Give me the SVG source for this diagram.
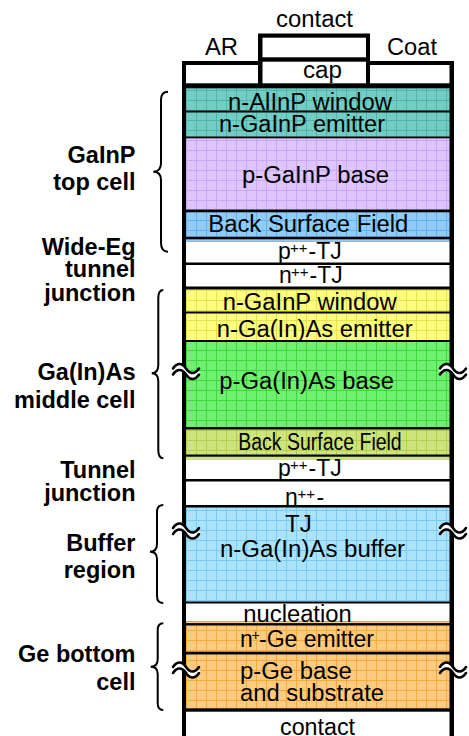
<svg xmlns="http://www.w3.org/2000/svg" width="469" height="736" viewBox="0 0 469 736">
<style>
text{font-family:"Liberation Sans",Arial,sans-serif;fill:#000}
.t{font-size:23px}
.lab{font-size:23.5px;font-weight:bold;text-anchor:end}
.brace{fill:none;stroke:#000;stroke-width:2}
.wv{fill:none;stroke:#000;stroke-width:2.6;stroke-linecap:round}
.wvw{fill:none;stroke:#fff;stroke-width:4}
</style>
<defs>
<pattern id="pTeal" patternUnits="userSpaceOnUse" x="186" y="0" width="10" height="10"><rect width="10" height="10" fill="#72cdc4"/><path d="M0 0.5H10M0.5 0V10" stroke="#52b5ab" stroke-width="1"/></pattern>
<pattern id="pLav" patternUnits="userSpaceOnUse" x="186" y="0" width="10" height="10"><rect width="10" height="10" fill="#dec6fc"/><path d="M0 0.5H10M0.5 0V10" stroke="#c8a8f4" stroke-width="1"/></pattern>
<pattern id="pBlue" patternUnits="userSpaceOnUse" x="186" y="0" width="10" height="10"><rect width="10" height="10" fill="#90ccf6"/><path d="M0 0.5H10M0.5 0V10" stroke="#62b2ee" stroke-width="1"/></pattern>
<pattern id="pYel" patternUnits="userSpaceOnUse" x="186" y="0" width="10" height="10"><rect width="10" height="10" fill="#fdfd80"/><path d="M0 0.5H10M0.5 0V10" stroke="#e4e44c" stroke-width="1"/></pattern>
<pattern id="pGrn" patternUnits="userSpaceOnUse" x="186" y="0" width="10" height="10"><rect width="10" height="10" fill="#70f070"/><path d="M0 0.5H10M0.5 0V10" stroke="#3ed83e" stroke-width="1"/></pattern>
<pattern id="pOli" patternUnits="userSpaceOnUse" x="186" y="0" width="10" height="10"><rect width="10" height="10" fill="#cde37e"/><path d="M0 0.5H10M0.5 0V10" stroke="#b4cf48" stroke-width="1"/></pattern>
<pattern id="pLb" patternUnits="userSpaceOnUse" x="186" y="0" width="10" height="10"><rect width="10" height="10" fill="#abe3fb"/><path d="M0 0.5H10M0.5 0V10" stroke="#78ccf2" stroke-width="1"/></pattern>
<pattern id="pOr" patternUnits="userSpaceOnUse" x="186" y="0" width="10" height="10"><rect width="10" height="10" fill="#fdcb80"/><path d="M0 0.5H10M0.5 0V10" stroke="#f5aa3c" stroke-width="1"/></pattern>
<g id="wave"><path class="wvw" d="M-13,3 C-9,-3 -4,-3 0,3 S9,9 13,3"/><path class="wv" d="M-13,0 C-9,-6 -4,-6 0,0 S9,6 13,0"/><path class="wv" d="M-13,6 C-9,0 -4,0 0,6 S9,12 13,6"/></g>
</defs>
<rect width="469" height="736" fill="#fff"/>

<g id="frame">
<rect x="182" y="61" width="272" height="680" fill="#000"/>
<rect x="258" y="33.5" width="112" height="55" fill="#000"/>
</g>

<g id="contact-top">
<rect x="262.5" y="37.7" width="103.5" height="19.6" fill="#fff"/>
<text class="t" x="276" y="26.7" textLength="77" lengthAdjust="spacingAndGlyphs">contact</text>
</g>
<g id="ar">
<rect x="186" y="65" width="72" height="18.3" fill="#fff"/>
<text class="t" x="205" y="55" textLength="33" lengthAdjust="spacingAndGlyphs">AR</text>
</g>
<g id="coat">
<rect x="370" y="65" width="79.5" height="18.3" fill="#fff"/>
<text class="t" x="387" y="55" textLength="50" lengthAdjust="spacingAndGlyphs">Coat</text>
</g>
<g id="cap">
<rect x="262.5" y="61.7" width="103.5" height="21.6" fill="#fff"/>
<text class="t" x="303" y="77.5" textLength="39" lengthAdjust="spacingAndGlyphs">cap</text>
</g>

<g id="window-top">
<rect x="186" y="88.3" width="263.5" height="22.2" fill="url(#pTeal)"/>
<text class="t" x="228" y="110" font-size="19.5" textLength="164" lengthAdjust="spacingAndGlyphs">n-AlInP window</text>
</g>
<g id="emitter-top">
<rect x="186" y="112.5" width="263.5" height="24" fill="url(#pTeal)"/>
<text class="t" x="219" y="131.7" font-size="21.5" textLength="166" lengthAdjust="spacingAndGlyphs">n-GaInP emitter</text>
</g>
<g id="base-top">
<rect x="186" y="138.3" width="263.5" height="71.2" fill="url(#pLav)"/>
<text class="t" x="242" y="183.3" textLength="147" lengthAdjust="spacingAndGlyphs">p-GaInP base</text>
</g>
<g id="bsf-top">
<rect x="186" y="212.3" width="263.5" height="24.4" fill="url(#pBlue)"/>
<rect x="186" y="239.3" width="263.5" height="2.2" fill="#90ccf6"/>
<text class="t" x="208.3" y="231.7" textLength="200" lengthAdjust="spacingAndGlyphs">Back Surface Field</text>
</g>
<g id="ptj-top">
<rect x="186" y="241.5" width="263.5" height="21" fill="#fff"/>
<text class="t" y="259.3"><tspan x="278">p</tspan><tspan x="290" y="253" font-size="15">++</tspan><tspan x="308.5" y="259.3">-TJ</tspan></text>
</g>
<g id="ntj-top">
<rect x="186" y="265" width="263.5" height="21.5" fill="#fff"/>
<text class="t" y="283.3"><tspan x="279">n</tspan><tspan x="291" y="277" font-size="15">++</tspan><tspan x="309.5" y="283.3">-TJ</tspan></text>
</g>

<g id="window-mid">
<rect x="186" y="289.5" width="263.5" height="22" fill="url(#pYel)"/>
<text class="t" x="222.7" y="310" font-size="21" textLength="174" lengthAdjust="spacingAndGlyphs">n-GaInP window</text>
</g>
<g id="emitter-mid">
<rect x="186" y="313.5" width="263.5" height="26.5" fill="url(#pYel)"/>
<text class="t" x="216.7" y="336.7" font-size="21.5" textLength="196" lengthAdjust="spacingAndGlyphs">n-Ga(In)As emitter</text>
</g>
<g id="base-mid">
<rect x="186" y="342" width="263.5" height="85" fill="url(#pGrn)"/>
<text class="t" x="219.3" y="389.3" textLength="174.7" lengthAdjust="spacingAndGlyphs">p-Ga(In)As base</text>
</g>
<g id="bsf-mid">
<rect x="186" y="429.5" width="263.5" height="25" fill="url(#pOli)"/>
<rect x="186" y="456.7" width="263.5" height="3.3" fill="#cde37e"/>
<text class="t" x="238.3" y="450" font-size="20" textLength="163.4" lengthAdjust="spacingAndGlyphs">Back Surface Field</text>
</g>
<g id="ptj-mid">
<rect x="186" y="460" width="263.5" height="19" fill="#fff"/>
<text class="t" y="476"><tspan x="278">p</tspan><tspan x="290" y="470" font-size="15">++</tspan><tspan x="308.5" y="476">-TJ</tspan></text>
</g>
<g id="ntj-mid">
<rect x="186" y="481.5" width="263.5" height="23.5" fill="#fff"/>
</g>
<g id="buffer">
<rect x="186" y="507.5" width="263.5" height="94" fill="url(#pLb)"/>
<text class="t" x="285" y="531.7" textLength="26.7" lengthAdjust="spacingAndGlyphs">TJ</text>
<text class="t" x="220" y="557.3" textLength="185" lengthAdjust="spacingAndGlyphs">n-Ga(In)As buffer</text>
</g>
<g id="ntj-mid-label">
<text class="t" y="505"><tspan x="285">n</tspan><tspan x="297.5" y="499" font-size="15">++</tspan><tspan x="316.5" y="505">-</tspan></text>
</g>
<g id="nucleation">
<rect x="186" y="603.5" width="263.5" height="18" fill="#fff"/>
<rect x="186" y="621.5" width="263.5" height="1.6" fill="#fdcb80"/>
<text class="t" x="243.3" y="621.7" textLength="108.4" lengthAdjust="spacingAndGlyphs">nucleation</text>
</g>
<g id="emitter-bot">
<rect x="186" y="625.5" width="263.5" height="26.2" fill="url(#pOr)"/>
<text class="t" y="646.7"><tspan x="240">n</tspan><tspan x="251.5" y="640" font-size="14">+</tspan><tspan x="259" y="646.7">-Ge emitter</tspan></text>
</g>
<g id="base-bot">
<rect x="186" y="654.5" width="263.5" height="53.8" fill="url(#pOr)"/>
<text class="t" x="240" y="679" textLength="111.7" lengthAdjust="spacingAndGlyphs">p-Ge base</text>
<text class="t" x="240" y="700.7" textLength="144" lengthAdjust="spacingAndGlyphs">and substrate</text>
</g>
<g id="contact-bot">
<rect x="186" y="711.7" width="263.5" height="30" fill="#fff"/>
<text class="t" x="280" y="735" textLength="75" lengthAdjust="spacingAndGlyphs">contact</text>
</g>

<g id="breaks">
<use href="#wave" x="186" y="368.5"/>
<use href="#wave" x="453" y="368.5"/>
<use href="#wave" x="186" y="528"/>
<use href="#wave" x="453" y="528"/>
<use href="#wave" x="186" y="667"/>
<use href="#wave" x="453" y="667"/>
</g>

<g id="connectors">
<path class="brace" d="M168,91.7 Q161,91.7 161,100 L161,163 Q161,171.7 153.3,171.7 Q161,171.7 161,180 L161,243 Q161,251.7 168,251.7"/>
<path class="brace" d="M163.3,290 Q158.3,290 158.3,298 L158.3,365 Q158.3,373.3 151.7,373.3 Q158.3,373.3 158.3,381 L158.3,450 Q158.3,458.3 163.3,458.3"/>
<path class="brace" d="M163.3,505 Q157,505 157,512 L157,544 Q157,551.7 150,551.7 Q157,551.7 157,559 L157,596 Q157,603 163.3,603"/>
<path class="brace" d="M163.3,623.3 Q157.7,623.3 157.7,630 L157.7,659 Q157.7,666.7 150.7,666.7 Q157.7,666.7 157.7,674 L157.7,703 Q157.7,710 163.3,710"/>
</g>

<g id="label-top">
<text class="lab" x="135.5" y="163.3">GaInP</text>
<text class="lab" x="135.5" y="190">top cell</text>
</g>
<g id="label-tj1">
<text class="lab" x="135.5" y="255">Wide-Eg</text>
<text class="lab" x="135.5" y="277">tunnel</text>
<text class="lab" x="135.5" y="300.7">junction</text>
</g>
<g id="label-mid">
<text class="lab" x="135.5" y="380">Ga(In)As</text>
<text class="lab" x="135.5" y="407.7">middle cell</text>
</g>
<g id="label-tj2">
<text class="lab" x="135.5" y="478.3">Tunnel</text>
<text class="lab" x="135.5" y="500.7">junction</text>
</g>
<g id="label-buf">
<text class="lab" x="135.5" y="550.7">Buffer</text>
<text class="lab" x="135.5" y="577.5">region</text>
</g>
<g id="label-bot">
<text class="lab" x="135.5" y="662.3">Ge bottom</text>
<text class="lab" x="135.5" y="690">cell</text>
</g>
</svg>
